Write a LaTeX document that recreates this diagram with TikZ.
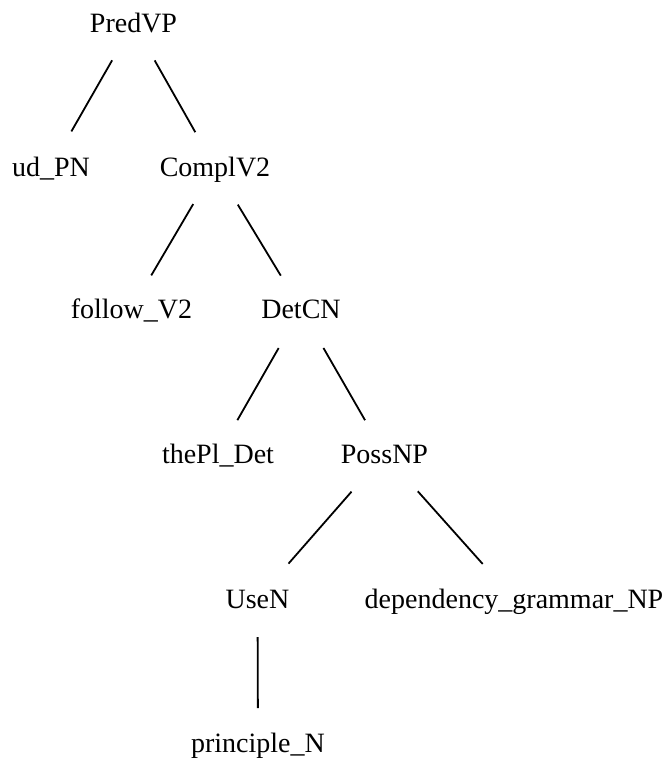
\documentclass[tikz,border=0pt]{standalone}
\usepackage{fontspec}
\setmainfont{Liberation Serif}
\begin{document}
\begin{tikzpicture}[x=1pt,y=-1pt,
  lbl/.style={inner sep=0pt, text height=20pt, text depth=2pt,
              font=\fontsize{28}{34}\selectfont},
  link/.style 2 args={line width=1.8pt, shorten <=#1, shorten >=#2}]
\useasboundingbox (0,0) rectangle (666,758);

% tree nodes, one row per level
\node[lbl] (predvp)    at (133.5,23)  {PredVP};
\node[lbl] (udpn)      at (51,167)    {ud\_PN};
\node[lbl] (complv)    at (215,167)   {ComplV2};
\node[lbl] (follow)    at (131.5,309) {follow\_V2};
\node[lbl] (detcn)     at (301,309)   {DetCN};
\node[lbl] (thepl)     at (218,454)   {thePl\_Det};
\node[lbl] (possnp)    at (384.5,454) {PossNP};
\node[lbl] (usen)      at (257.5,599) {UseN};
\node[lbl] (depgram)   at (514,599)   {dependency\_grammar\_NP};
\node[lbl] (principle) at (258,743)   {principle\_N};

% edges, clipped short of each label
\draw[link={43pt}{41pt}] (predvp.center) -- (udpn.center);
\draw[link={43pt}{40pt}] (predvp.center) -- (complv.center);
\draw[link={43pt}{39pt}] (complv.center) -- (follow.center);
\draw[link={44pt}{39pt}] (complv.center) -- (detcn.center);
\draw[link={45pt}{39pt}] (detcn.center) -- (thepl.center);
\draw[link={45pt}{39pt}] (detcn.center) -- (possnp.center);
\draw[link={50pt}{47pt}] (possnp.center) -- (usen.center);
\draw[link={50pt}{47pt}] (possnp.center) -- (depgram.center);
\draw[link={38pt}{35pt}] (usen.center) -- (principle.center);
\end{tikzpicture}
\end{document}
